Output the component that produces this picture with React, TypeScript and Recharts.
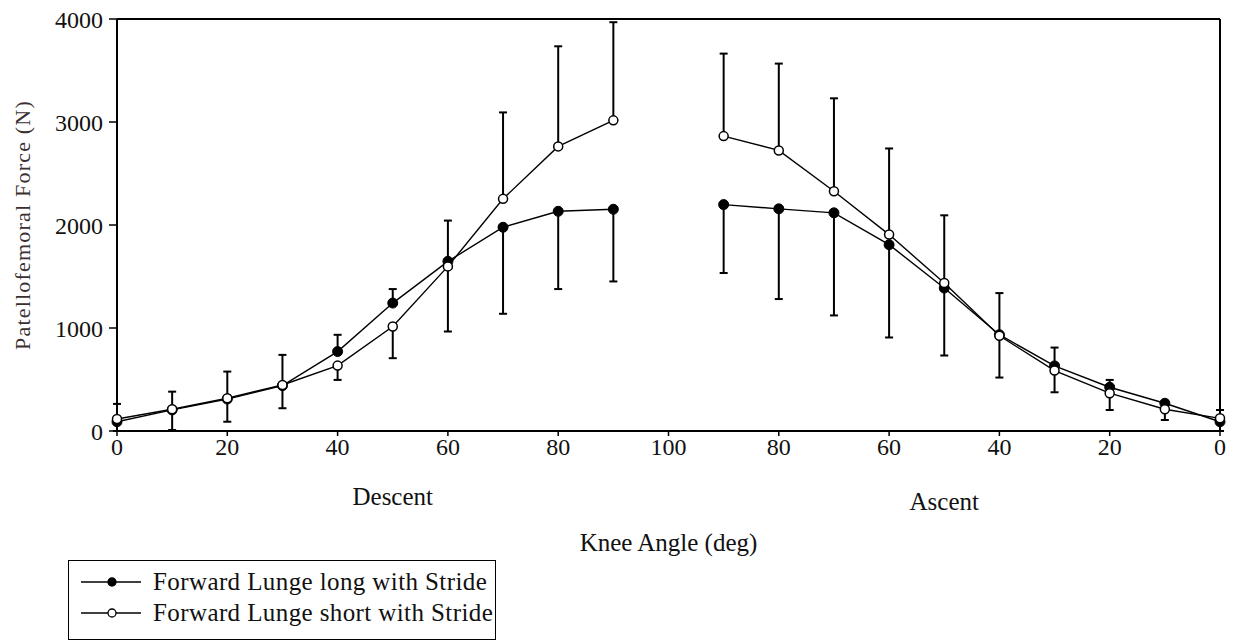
import { LineChart, Line, XAxis, YAxis, ErrorBar, ReferenceLine, Legend, Label } from 'recharts';

// knee angles, descent then ascent
const descentAngles = [0, 10, 20, 30, 40, 50, 60, 70, 80, 90];
const ascentAngles = [90, 80, 70, 60, 50, 40, 30, 20, 10, 0];

// Forward Lunge long with Stride (filled)
const longDescent = [90, 205, 310, 440, 771, 1242, 1647, 1978, 2133, 2153];
const longAscent = [2198, 2157, 2118, 1809, 1388, 935, 632, 425, 269, 90];
// Forward Lunge short with Stride (open)
const shortDescent = [117, 211, 318, 447, 635, 1015, 1598, 2254, 2763, 3016];
const shortAscent = [2863, 2724, 2328, 1907, 1437, 925, 587, 367, 211, 123];

// SD bars as [below, above]
const longDescentErr = [[90, 0], [195, 0], [220, 0], [219, 0], [0, 163], [0, 136], [0, 396], [840, 0], [755, 0], [701, 0]];
const longAscentErr = [[664, 0], [876, 0], [996, 0], [901, 0], [655, 0], [416, 0], [0, 178], [0, 71], [0, 25], [90, 0]];
const shortDescentErr = [[0, 146], [0, 171], [0, 259], [0, 292], [139, 0], [308, 0], [632, 0], [0, 839], [0, 972], [0, 953]];
const shortAscentErr = [[0, 801], [0, 843], [0, 902], [0, 836], [0, 657], [0, 414], [211, 0], [163, 0], [104, 0], [0, 81]];

const angleTicks = [0, 20, 40, 60, 80, 100, 120, 140, 160, 180, 200];
const forceTicks = [0, 1000, 2000, 3000, 4000];

const FONT = '"Liberation Serif", "Times New Roman", serif';

// descent runs 0..100 on the axis, ascent is mirrored onto 100..200
const build = (angles: number[], vals: number[], errs: number[][], ascent: boolean) =>
  angles.map((a, i) => ({ x: ascent ? 200 - a : a, v: vals[i], e: errs[i] }));

const longDesc = build(descentAngles, longDescent, longDescentErr, false);
const longAsc = build(ascentAngles, longAscent, longAscentErr, true);
const shortDesc = build(descentAngles, shortDescent, shortDescentErr, false);
const shortAsc = build(ascentAngles, shortAscent, shortAscentErr, true);

const filledDot = { r: 5, fill: '#000', stroke: '#000', strokeWidth: 1 };
const openDot = { r: 4.5, fill: '#fff', stroke: '#000', strokeWidth: 1.5 };

function LegendBox() {
  const rows = [
    { name: 'Forward Lunge long with Stride', fill: '#000' },
    { name: 'Forward Lunge short with Stride', fill: '#fff' },
  ];
  return (
    <div style={{ border: '1.5px solid #000', width: 428, height: 80, boxSizing: 'border-box', paddingTop: 5, background: '#fff' }}>
      {rows.map((r) => (
        <div key={r.name} style={{ display: 'flex', alignItems: 'center', height: 31 }}>
          <svg width={84} height={20} style={{ flex: 'none' }}>
            <line x1={12} x2={72} y1={10} y2={10} stroke="#000" strokeWidth={1.5} />
            <circle cx={43} cy={10} r={4} fill={r.fill} stroke="#000" strokeWidth={1.3} />
          </svg>
          <span style={{ fontFamily: FONT, fontSize: 25, letterSpacing: 0.4, color: '#111', whiteSpace: 'nowrap' }}>{r.name}</span>
        </div>
      ))}
    </div>
  );
}

export default function App() {
  return (
    <div style={{ position: 'absolute', left: 0, top: 0, width: 1236, height: 641, background: '#fff' }}>
      <LineChart width={1236} height={641} margin={{ top: 19, right: 16, left: 0, bottom: 170 }}>
        <XAxis
          type="number"
          dataKey="x"
          domain={[0, 200]}
          ticks={angleTicks}
          interval={0}
          tickFormatter={(v: number) => String(v <= 100 ? v : 200 - v)}
          tickSize={5}
          height={40}
          axisLine={{ stroke: '#000', strokeWidth: 2 }}
          tickLine={{ stroke: '#000', strokeWidth: 1.5 }}
          tick={{ fill: '#111', fontSize: 24, fontFamily: FONT }}
        >
          <Label
            content={({ viewBox }: any) => (
              <g fontFamily={FONT} fill="#111" fontSize={25} textAnchor="middle">
                <text x={viewBox.x + viewBox.width * 0.25} y={viewBox.y + 74}>Descent</text>
                <text x={viewBox.x + viewBox.width * 0.75} y={viewBox.y + 79}>Ascent</text>
                <text x={viewBox.x + viewBox.width / 2} y={viewBox.y + 120}>Knee Angle (deg)</text>
              </g>
            )}
          />
        </XAxis>
        <YAxis
          type="number"
          domain={[0, 4000]}
          ticks={forceTicks}
          width={117}
          tickSize={8}
          tickMargin={6}
          axisLine={{ stroke: '#000', strokeWidth: 2 }}
          tickLine={{ stroke: '#000', strokeWidth: 1.5 }}
          tick={{ fill: '#111', fontSize: 24, fontFamily: FONT }}
        >
          <Label
            content={({ viewBox }: any) => {
              const cx = viewBox.x + 22;
              const cy = viewBox.y + viewBox.height / 2;
              return (
                <text x={cx} y={cy} transform={`rotate(-90 ${cx} ${cy})`} textAnchor="middle" dominantBaseline="central"
                  fontFamily={FONT} fontSize={22} fill="#3a3030" letterSpacing={1.2}>
                  Patellofemoral Force (N)
                </text>
              );
            }}
          />
        </YAxis>
        <ReferenceLine y={4000} stroke="#000" strokeWidth={2} />
        <ReferenceLine x={200} stroke="#000" strokeWidth={2} />

        <Line data={longDesc} dataKey="v" stroke="#000" strokeWidth={1.4} dot={filledDot} activeDot={false} isAnimationActive={false}>
          <ErrorBar dataKey="e" direction="y" width={4} stroke="#000" strokeWidth={2} />
        </Line>
        <Line data={longAsc} dataKey="v" stroke="#000" strokeWidth={1.4} dot={filledDot} activeDot={false} isAnimationActive={false}>
          <ErrorBar dataKey="e" direction="y" width={4} stroke="#000" strokeWidth={2} />
        </Line>
        <Line data={shortDesc} dataKey="v" stroke="#000" strokeWidth={1.4} dot={openDot} activeDot={false} isAnimationActive={false}>
          <ErrorBar dataKey="e" direction="y" width={4} stroke="#000" strokeWidth={2} />
        </Line>
        <Line data={shortAsc} dataKey="v" stroke="#000" strokeWidth={1.4} dot={openDot} activeDot={false} isAnimationActive={false}>
          <ErrorBar dataKey="e" direction="y" width={4} stroke="#000" strokeWidth={2} />
        </Line>

        <Legend
          layout="vertical"
          align="center"
          verticalAlign="middle"
          content={() => <LegendBox />}
          wrapperStyle={{ left: 68, top: 560, width: 430, height: 82 }}
        />
      </LineChart>
    </div>
  );
}
